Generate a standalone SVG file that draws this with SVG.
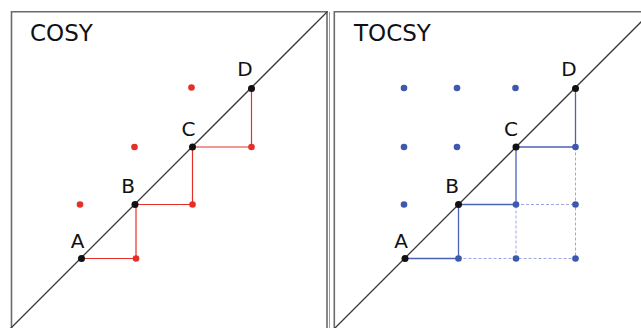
<svg xmlns="http://www.w3.org/2000/svg" width="641" height="328" viewBox="0 0 641 328">
<style>
.frame{fill:none;stroke:#6b6b6b;stroke-width:1.6}
.diag{stroke:#3a3a3a;stroke-width:1.3}
.title{font-family:"DejaVu Sans",Verdana,sans-serif;font-size:23px;fill:#111}
.lbl{font-family:"DejaVu Sans",Verdana,sans-serif;font-size:20px;fill:#111;text-anchor:middle}
.pk{fill:#111}
.red{fill:#e5302a}
.blue{fill:#3d58b0}
.rl{stroke:#e5302a;stroke-width:1.2;fill:none}
.bl{stroke:#4a62b8;stroke-width:1.3;fill:none}
.bd{stroke:#9aa8dc;stroke-width:1;stroke-dasharray:3 2;fill:none}
</style>
<rect width="641" height="328" fill="#fff"/>
<g id="cosy-panel">
<path class="frame" d="M11.5,330 V11.8 H327 V330"/>
<line x1="329.5" y1="12" x2="329.5" y2="330" stroke="#9a9a9a" stroke-width="1"/>
<line class="diag" x1="10" y1="329" x2="327.5" y2="11.5"/>
<text class="title" x="30" y="41">COSY</text>
</g>
<g id="tocsy-panel">
<path class="frame" d="M334.3,330 V11.8 H645"/>
<line class="diag" x1="334" y1="329" x2="645" y2="18"/>
<text class="title" x="354" y="41">TOCSY</text>
</g>
<g id="connectors">
<path class="rl" d="M81.5,258.5 H136 V204.5 H192.5 V147 H251.5 V88.5"/>
<path class="bd" d="M458.5,258.5 H575.5 V147 M516,204.5 H575.5 M516,258.5 V204.5"/>
<path class="bl" d="M405,258.5 H458.5 V204.5 H516 V147 H575.5 V88.5"/>
</g>
<g id="cosy-A"><circle class="pk" cx="81.5" cy="258.5" r="3.5"/><text class="lbl" x="77.5" y="247.5">A</text></g>
<g id="cosy-B"><circle class="pk" cx="135" cy="204.5" r="3.5"/><text class="lbl" x="128" y="193">B</text></g>
<g id="cosy-C"><circle class="pk" cx="192.5" cy="147" r="3.5"/><text class="lbl" x="188.5" y="135.5">C</text></g>
<g id="cosy-D"><circle class="pk" cx="251.5" cy="88.5" r="3.5"/><text class="lbl" x="245" y="75.5">D</text></g>
<g id="cosy-cross">
<circle class="red" cx="136" cy="258.5" r="3.3"/>
<circle class="red" cx="192.5" cy="204.5" r="3.3"/>
<circle class="red" cx="251.5" cy="147" r="3.3"/>
<circle class="red" cx="80" cy="204.5" r="3.3"/>
<circle class="red" cx="134.5" cy="147" r="3.3"/>
<circle class="red" cx="191.5" cy="87.5" r="3.3"/>
</g>
<g id="tocsy-A"><circle class="pk" cx="405" cy="258.5" r="3.5"/><text class="lbl" x="401" y="247.5">A</text></g>
<g id="tocsy-B"><circle class="pk" cx="458.5" cy="204.5" r="3.5"/><text class="lbl" x="452" y="193">B</text></g>
<g id="tocsy-C"><circle class="pk" cx="516" cy="147" r="3.5"/><text class="lbl" x="511" y="135.5">C</text></g>
<g id="tocsy-D"><circle class="pk" cx="575.5" cy="88.5" r="3.5"/><text class="lbl" x="569" y="75.5">D</text></g>
<g id="tocsy-cross">
<circle class="blue" cx="458.5" cy="258.5" r="3.3"/>
<circle class="blue" cx="516" cy="258.5" r="3.3"/>
<circle class="blue" cx="575.5" cy="258.5" r="3.3"/>
<circle class="blue" cx="516" cy="204.5" r="3.3"/>
<circle class="blue" cx="575.5" cy="204.5" r="3.3"/>
<circle class="blue" cx="575.5" cy="147" r="3.3"/>
<circle class="blue" cx="404" cy="88" r="3.3"/>
<circle class="blue" cx="457" cy="88" r="3.3"/>
<circle class="blue" cx="515.5" cy="88" r="3.3"/>
<circle class="blue" cx="404" cy="147" r="3.3"/>
<circle class="blue" cx="457" cy="147" r="3.3"/>
<circle class="blue" cx="404" cy="204.5" r="3.3"/>
</g>
</svg>
